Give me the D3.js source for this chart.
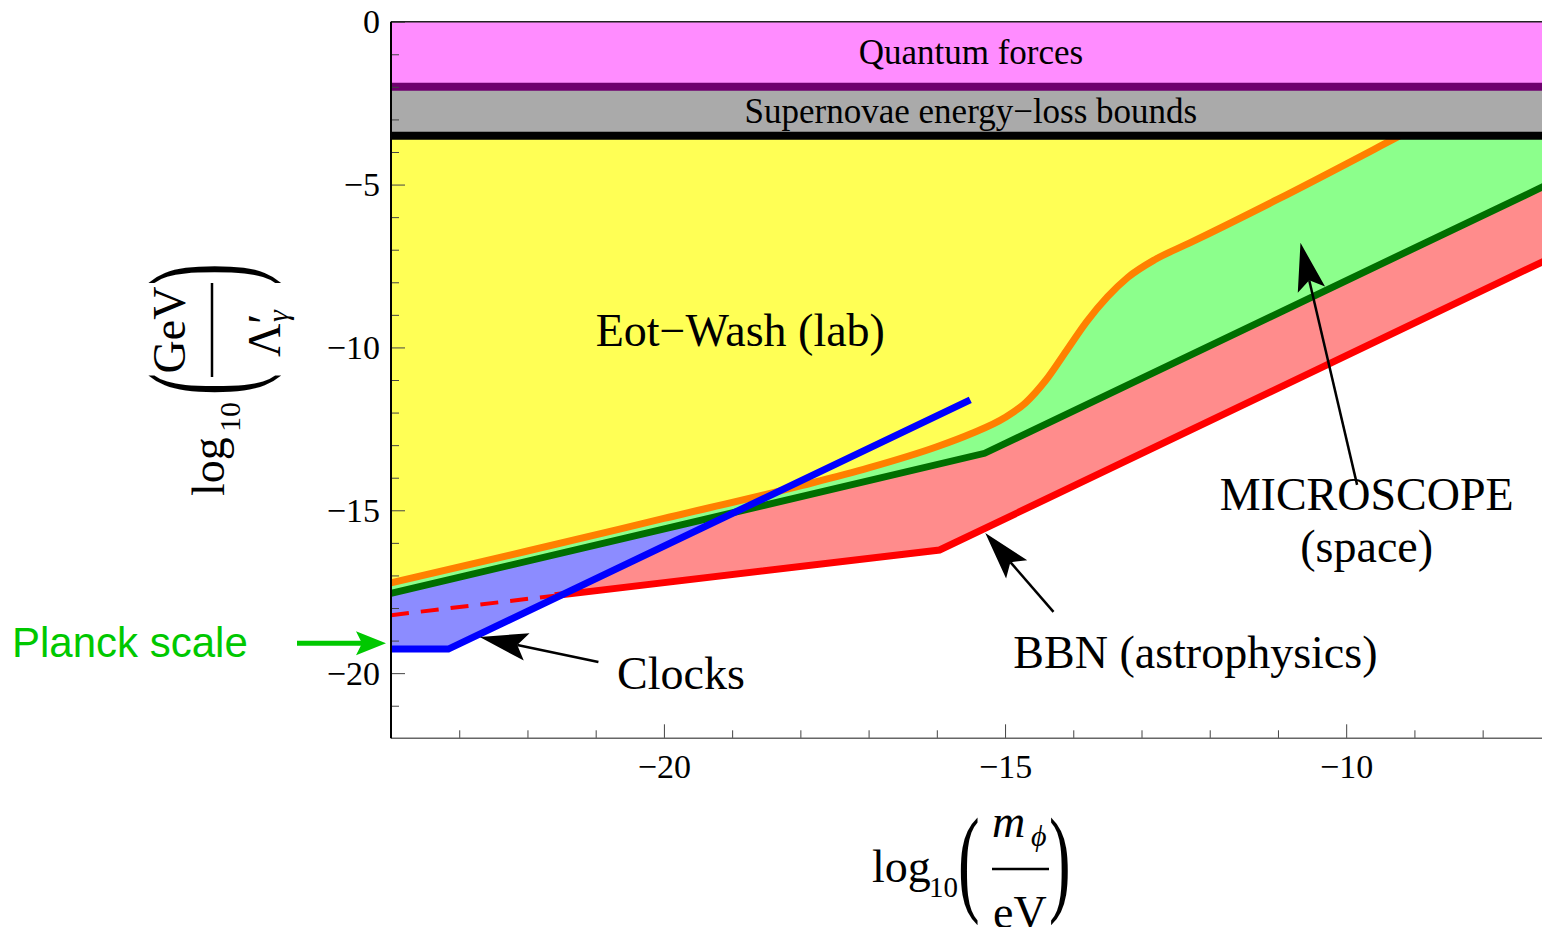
<!DOCTYPE html>
<html>
<head>
<meta charset="utf-8">
<script src="https://cdn.jsdelivr.net/npm/d3@7"></script>
<style>
  body { margin: 0; background: #fff; }
  svg { display: block; }
  text { font-family: "Liberation Serif", "Times New Roman", serif; fill: #000; }
</style>
</head>
<body>
<svg id="chart" width="1542" height="927"></svg>
<script>
// bounds: x = log10(m/eV), y = log10(GeV/Lambda)
var eotWash = [[-24,-17.23],[-22,-16.25],[-20,-15.25],[-18,-14.25],[-17,-13.7],[-16,-13.05],
               [-15.5,-12.65],[-15,-12.15],[-14.7,-11.7],[-14.4,-11.0],[-14.1,-10.1],[-13.8,-9.2],
               [-13.5,-8.45],[-13.2,-7.85],[-12.8,-7.3],[-12.3,-6.8],[-11,-5.45],
               [-9.3,-3.6],[-8.8,-3.05]];
var microscope = [[-24,-17.55],[-15.3,-13.25],[-7,-4.95]];
var bbnDashed = [[-24,-18.22],[-21.6,-17.62]];
var bbn = [[-21.6,-17.62],[-15.96,-16.22],[-7,-7.25]];
var clocks = [[-24,-19.26],[-23.16,-19.26],[-15.51,-11.61]];
var quantumForces = [0, -2];
var supernovae = [-2, -3.5];
var planckScale = -19.08;

var xMajor = [-20, -15, -10];
var xMinor = [-23,-22,-21,-19,-18,-17,-16,-14,-13,-12,-11,-9,-8];
var yMajor = [0, -5, -10, -15, -20];
var yMinor = [-1,-2,-3,-4,-6,-7,-8,-9,-11,-12,-13,-14,-16,-17,-18,-19,-21];

var svg = d3.select("#chart");

var x = d3.scaleLinear().domain([-24, -7.13]).range([391, 1542]);
var y = d3.scaleLinear().domain([-22, 0]).range([738.3, 21.7]);

svg.append("clipPath").attr("id", "plot-clip")
  .append("rect")
    .attr("x", x(-24)).attr("y", y(0))
    .attr("width", x(-7.13) - x(-24)).attr("height", y(-22) - y(0));

var plot = svg.append("g").attr("clip-path", "url(#plot-clip)");

// piecewise linear lookup (extended past the ends), used to shade between bounds
function at(pts, xv) {
  var i = 1;
  while (i < pts.length - 1 && xv > pts[i][0]) i++;
  var a = pts[i-1], b = pts[i];
  return a[1] + (b[1] - a[1]) * (xv - a[0]) / (b[0] - a[0]);
}

var xs = d3.range(-24, -7.0, 0.01);

var line = d3.line().x(function(d) { return x(d[0]); }).y(function(d) { return y(d[1]); });
var smooth = d3.line().curve(d3.curveMonotoneX)
  .x(function(d) { return x(d[0]); }).y(function(d) { return y(d[1]); });

// light green: above MICROSCOPE
plot.append("path")
  .datum(microscope)
  .attr("fill", "#8cff8c")
  .attr("d", d3.area().x(function(d) { return x(d[0]); })
    .y0(function(d) { return y(d[1]); }).y1(y(0)));

// yellow: above Eot-Wash
plot.append("path")
  .datum(eotWash)
  .attr("fill", "#ffff55")
  .attr("d", d3.area().curve(d3.curveMonotoneX).x(function(d) { return x(d[0]); })
    .y0(function(d) { return y(d[1]); }).y1(y(0)));

// pink: between BBN and MICROSCOPE
var bbnAll = bbnDashed.concat(bbn.slice(1));
plot.append("path")
  .datum(xs)
  .attr("fill", "#ff8c8c")
  .attr("d", d3.area().x(function(d) { return x(d); })
    .y0(function(d) { return y(Math.min(at(bbnAll, d), at(microscope, d))); })
    .y1(function(d) { return y(at(microscope, d)); }));

// blue: between clocks and MICROSCOPE
plot.append("path")
  .datum(xs)
  .attr("fill", "#8c8cff")
  .attr("d", d3.area().x(function(d) { return x(d); })
    .y0(function(d) { return y(at(clocks, d)); })
    .y1(function(d) { return y(Math.max(at(clocks, d), at(microscope, d))); }));

// bound lines
plot.append("path").datum(eotWash).attr("d", smooth)
  .attr("fill", "none").attr("stroke", "#ff8000").attr("stroke-width", 7);
plot.append("path").datum(microscope).attr("d", line)
  .attr("fill", "none").attr("stroke", "#006e00").attr("stroke-width", 7);
plot.append("path").datum(bbnDashed).attr("d", line)
  .attr("fill", "none").attr("stroke", "#ff0000").attr("stroke-width", 4)
  .attr("stroke-dasharray", "18,12");
plot.append("path").datum(bbn).attr("d", line)
  .attr("fill", "none").attr("stroke", "#ff0000").attr("stroke-width", 7);
plot.append("path").datum(clocks).attr("d", line)
  .attr("fill", "none").attr("stroke", "#0000ff").attr("stroke-width", 7);

// excluded bands at the top
plot.append("rect")
  .attr("x", x(-24)).attr("y", y(quantumForces[0]))
  .attr("width", x(-7.13) - x(-24)).attr("height", y(quantumForces[1]) - y(quantumForces[0]))
  .attr("fill", "#ff8cff");
plot.append("rect")
  .attr("x", x(-24)).attr("y", y(supernovae[0]))
  .attr("width", x(-7.13) - x(-24)).attr("height", y(supernovae[1]) - y(supernovae[0]))
  .attr("fill", "#aaaaaa");
plot.append("line")
  .attr("x1", x(-24)).attr("x2", x(-7.13))
  .attr("y1", y(quantumForces[1])).attr("y2", y(quantumForces[1]))
  .attr("stroke", "#6e006e").attr("stroke-width", 8);
plot.append("line")
  .attr("x1", x(-24)).attr("x2", x(-7.13))
  .attr("y1", y(supernovae[1])).attr("y2", y(supernovae[1]))
  .attr("stroke", "#000").attr("stroke-width", 8);

// axes, ticks pointing into the plot
function styleAxis(g) {
  g.select(".domain").remove();
  g.selectAll(".tick line").attr("stroke", "#444");
  g.selectAll(".tick text").attr("font-family", "Liberation Serif").attr("font-size", 34).attr("fill", "#000");
}
svg.append("g").attr("transform", "translate(0," + y(-22) + ")")
  .call(d3.axisBottom(x).tickValues(xMinor).tickSize(-8).tickFormat(""))
  .call(styleAxis);
svg.append("g").attr("transform", "translate(0," + y(-22) + ")")
  .call(d3.axisBottom(x).tickValues(xMajor).tickSize(-14).tickPadding(16).tickFormat(d3.format("d")))
  .call(styleAxis);
svg.append("g").attr("transform", "translate(" + x(-24) + ",0)")
  .call(d3.axisLeft(y).tickValues(yMinor).tickSize(-8).tickFormat(""))
  .call(styleAxis);
svg.append("g").attr("transform", "translate(" + x(-24) + ",0)")
  .call(d3.axisLeft(y).tickValues(yMajor).tickSize(-14).tickPadding(11).tickFormat(d3.format("d")))
  .call(styleAxis);

svg.append("line").attr("x1", x(-24)).attr("x2", 1542).attr("y1", y(-22)).attr("y2", y(-22))
  .attr("stroke", "#666").attr("stroke-width", 1.5);
svg.append("line").attr("x1", x(-24)).attr("x2", 1542).attr("y1", y(0)).attr("y2", y(0))
  .attr("stroke", "#222").attr("stroke-width", 1.5);
svg.append("line").attr("x1", x(-24)).attr("x2", x(-24)).attr("y1", y(0)).attr("y2", y(-22))
  .attr("stroke", "#000").attr("stroke-width", 2);

// region labels
function label(txt, xv, yv, size) {
  return svg.append("text").attr("x", x(xv)).attr("y", y(yv))
    .attr("text-anchor", "middle").attr("font-size", size).text(txt);
}
label("Quantum forces", -15.5, -1.3, 35);
label("Supernovae energy\u2212loss bounds", -15.5, -3.1, 35);
label("Eot\u2212Wash (lab)", -18.88, -9.95, 46);
label("MICROSCOPE", -9.70, -15.0, 46);
label("(space)", -9.70, -16.6, 46);
label("BBN (astrophysics)", -12.21, -19.85, 46);
label("Clocks", -19.75, -20.5, 46);

svg.append("text").attr("x", 12).attr("y", y(planckScale) + 14)
  .attr("font-size", 42)
  .style("fill", "#00c800").style("font-family", "Liberation Sans, Arial, sans-serif")
  .text("Planck scale");

// arrows
function arrow(x0, y0, x1, y1, color, head, half, width) {
  var dx = x1 - x0, dy = y1 - y0, len = Math.sqrt(dx*dx + dy*dy);
  var ux = dx / len, uy = dy / len, nx = -uy, ny = ux;
  var bx = x1 - ux * head, by = y1 - uy * head;
  var notch = head * 0.8;
  svg.append("line").attr("x1", x0).attr("y1", y0)
    .attr("x2", x1 - ux * notch).attr("y2", y1 - uy * notch)
    .attr("stroke", color).attr("stroke-width", width);
  svg.append("path").attr("fill", color)
    .attr("d", "M" + x1 + "," + y1 +
      "L" + (bx + nx * half) + "," + (by + ny * half) +
      "L" + (x1 - ux * notch) + "," + (y1 - uy * notch) +
      "L" + (bx - nx * half) + "," + (by - ny * half) + "Z");
}
arrow(x(-20.96), y(-19.66), x(-22.70), y(-18.89), "#000", 48, 14, 2.5);
arrow(x(-9.84), y(-14.22), x(-10.67), y(-6.79), "#000", 48, 14, 2.5);
arrow(x(-14.29), y(-18.12), x(-15.29), y(-15.70), "#000", 48, 14, 2.5);
arrow(297, y(planckScale), 386, y(planckScale), "#00c800", 30, 12, 5);

// x axis title: log10( m_phi / eV )
var xt = svg.append("g");
xt.append("text").attr("x", 872).attr("y", 882).attr("font-size", 46).text("log");
xt.append("text").attr("x", 929).attr("y", 897).attr("font-size", 29).text("10");
xt.append("text").attr("transform", "translate(958,900) scale(1.3,2.37)").attr("font-size", 50).text("(");
xt.append("text").attr("transform", "translate(1049,900) scale(1.3,2.37)").attr("font-size", 50).text(")");
xt.append("line").attr("x1", 992).attr("x2", 1049).attr("y1", 869).attr("y2", 869)
  .attr("stroke", "#000").attr("stroke-width", 2.5);
xt.append("text").attr("x", 992).attr("y", 837).attr("font-size", 46).attr("font-style", "italic").text("m");
xt.append("text").attr("x", 1031).attr("y", 846).attr("font-size", 30).attr("font-style", "italic").text("\u03d5");
xt.append("text").attr("x", 993).attr("y", 928).attr("font-size", 46).text("eV");

// y axis title, rotated: log10( GeV / Lambda'_gamma )
var yt = svg.append("g").attr("transform", "translate(212,330) rotate(-90)");
yt.append("text").attr("x", -166).attr("y", 12).attr("font-size", 46).text("log");
yt.append("text").attr("x", -102).attr("y", 28).attr("font-size", 30).text("10");
yt.append("text").attr("transform", "translate(-65,38) scale(1.3,2.92)").attr("font-size", 50).text("(");
yt.append("text").attr("transform", "translate(45,38) scale(1.3,2.92)").attr("font-size", 50).text(")");
yt.append("line").attr("x1", -47).attr("x2", 47).attr("y1", 0).attr("y2", 0)
  .attr("stroke", "#000").attr("stroke-width", 2.5);
yt.append("text").attr("x", 0).attr("y", -27).attr("text-anchor", "middle").attr("font-size", 46).text("GeV");
yt.append("text").attr("x", -27).attr("y", 68).attr("font-size", 46).text("\u039b\u2032");
yt.append("text").attr("x", 8).attr("y", 76).attr("font-size", 30).attr("font-style", "italic").text("\u03b3");
</script>
</body>
</html>
